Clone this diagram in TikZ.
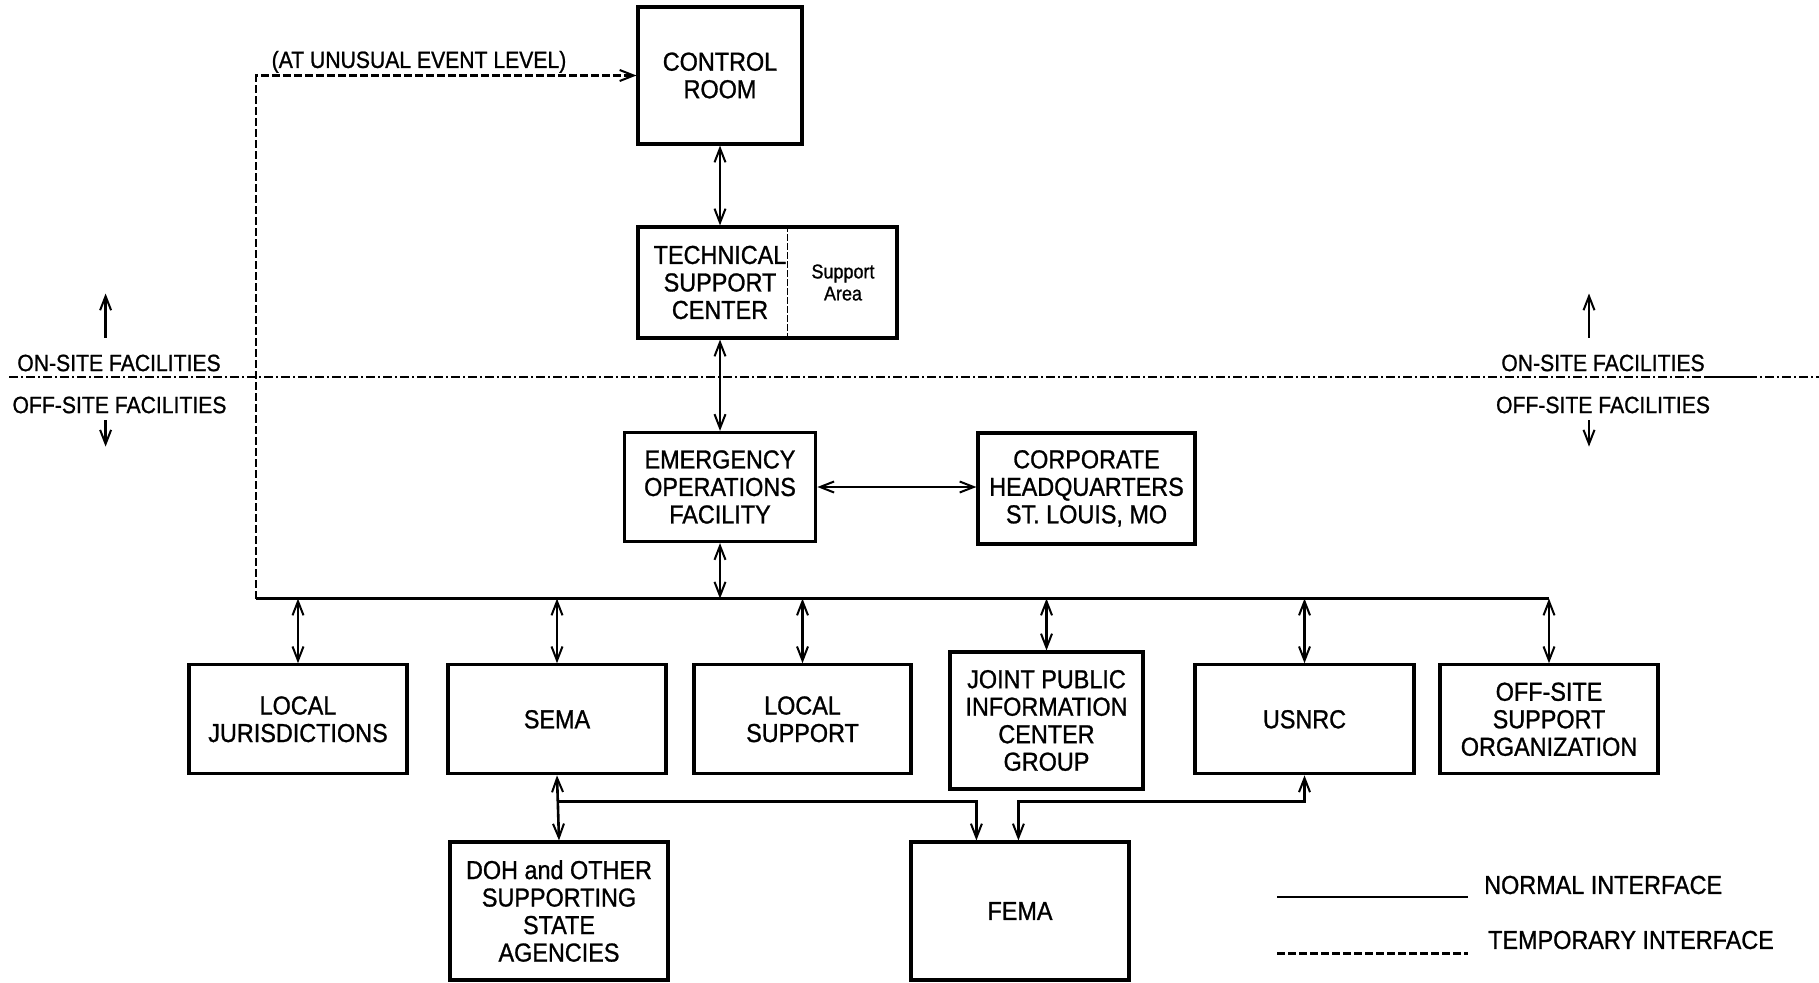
\documentclass[tikz,border=0pt]{standalone}
\usepackage{fontspec}
\setmainfont[FakeStretch=0.9,FakeBold=1]{Liberation Sans}
\usetikzlibrary{arrows.meta,calc}
\newcommand\cbfont{\fontsize{26}{27.5}\selectfont}
\newcommand\lbfont{\fontsize{23.5}{25}\selectfont}
\newcommand\smfont{\fontsize{20}{22}\selectfont}

\begin{document}
\begin{tikzpicture}[x=1pt,y=-1pt,
  box/.style={draw, line width=3.2pt, inner sep=0pt, align=center, font=\cbfont},
  txt/.style={inner sep=0pt, align=center},
  link/.style={line width=2.6pt},
  temp/.style={line width=2.6pt, dash pattern=on 8pt off 3pt},
  site/.style={line width=2.8pt, dash pattern=on 9pt off 3pt on 2pt off 3pt},
  >={Straight Barb[length=14pt,width=11pt,line width=2pt]}]
\useasboundingbox (0,0) rectangle (1819,982);

% ---- on-site facilities ----
\node[box, minimum width=164pt, minimum height=137pt] (cr) at (720,75.5) {CONTROL\\ROOM};
\node[box, minimum width=259pt, minimum height=111pt] (tsc) at (767.5,282.5) {};
\draw[line width=1.6pt, dash pattern=on 7pt off 2pt] ($(tsc.north west)+(151,0)$) -- ($(tsc.south west)+(151,0)$);
\node[txt, font=\cbfont] (tsct) at (720,282.5) {TECHNICAL\\SUPPORT\\CENTER};
\node[txt, font=\smfont] (tscs) at (843,282.5) {Support\\Area};

% ---- site boundary ----
\coordinate (sbL) at (9,377);
\coordinate (sbM1) at (1706,377);
\coordinate (sbM2) at (1748,377);
\coordinate (sbR) at (1819,377);
\draw[site] (sbL) -- (sbM1);
\draw[link, line width=2.8pt] (sbM1) -- (sbM2);
\draw[site] (sbM2) -- (sbR);

\node[txt, font=\lbfont] (onL) at (119,363) {ON-SITE FACILITIES};
\node[txt, font=\lbfont] (offL) at (119.5,405) {OFF-SITE FACILITIES};
\node[txt, font=\lbfont] (onR) at (1603,363) {ON-SITE FACILITIES};
\node[txt, font=\lbfont] (offR) at (1603,405) {OFF-SITE FACILITIES};
\coordinate (upL0) at (105.6,337.6); \coordinate (upL1) at (105.6,293.5);
\coordinate (dnL0) at (105.6,420);   \coordinate (dnL1) at (105.6,446.6);
\coordinate (upR0) at (1589,337.6);  \coordinate (upR1) at (1589,293.5);
\coordinate (dnR0) at (1589,420);    \coordinate (dnR1) at (1589,446.6);
\draw[link,->] (upL0) -- (upL1);
\draw[link,->] (dnL0) -- (dnL1);
\draw[link,->] (upR0) -- (upR1);
\draw[link,->] (dnR0) -- (dnR1);

% ---- off-site facilities ----
\node[box, minimum width=191.5pt, minimum height=109pt] (eof) at (720,487) {EMERGENCY\\OPERATIONS\\FACILITY};
\node[box, minimum width=217pt, minimum height=111pt] (chq) at (1086.5,488.4) {CORPORATE\\HEADQUARTERS\\ST. LOUIS, MO};

\node[box, minimum width=218pt, minimum height=109pt] (lj)  at (298,719.3)   {LOCAL\\JURISDICTIONS};
\node[box, minimum width=218pt, minimum height=109pt] (sema) at (557,719.3)  {SEMA};
\node[box, minimum width=217pt, minimum height=109pt] (ls)  at (802.5,719.3) {LOCAL\\SUPPORT};
\node[box, minimum width=193pt, minimum height=137pt] (jpic) at (1046.5,720.5) {JOINT PUBLIC\\INFORMATION\\CENTER\\GROUP};
\node[box, minimum width=219pt, minimum height=109pt] (nrc) at (1304.5,719.3) {USNRC};
\node[box, minimum width=218pt, minimum height=109pt] (osso) at (1549,719.3) {OFF-SITE\\SUPPORT\\ORGANIZATION};

\node[box, minimum width=218pt, minimum height=138pt] (doh)  at (559,911)  {DOH and OTHER\\SUPPORTING\\STATE\\AGENCIES};
\node[box, minimum width=218pt, minimum height=138pt] (fema) at (1020,911) {FEMA};

% ---- interfaces ----
\draw[link,<->] (cr.south) -- (cr.south |- tsc.north);
\draw[link,<->] (cr.south |- tsc.south) -- (eof.north);
\draw[link,<->] (eof.east) -- (eof.east -| chq.west);

\coordinate (busL) at (256,598.6);
\coordinate (busR) at (1549,598.6);
\draw[link] (busL) -- (busR);
\draw[link,<->] (eof.south) -- (eof.south |- busL);
\draw[link,<->] (busL -| lj.north) -- (lj.north);
\draw[link,<->] (busL -| sema.north) -- (sema.north);
\draw[link,<->] (busL -| ls.north) -- (ls.north);
\draw[link,<->] (busL -| jpic.north) -- (jpic.north);
\draw[link,<->] (busL -| nrc.north) -- (nrc.north);
\draw[link,<->] (busR) -- (osso.north);

% temporary interface to the control room
\draw[temp,->] (busL) |- (cr.west);
\node[txt, font=\lbfont, anchor=south] (lvl) at (419,73) {(AT UNUSUAL EVENT LEVEL)};

% state and federal links
\coordinate (fin1) at ($(fema.north west)+(67,0)$);
\coordinate (fin2) at ($(fema.north west)+(109,0)$);
\draw[link,<->] (sema.south) -- (doh.north);
\coordinate (j1) at (sema.south |- 0,801.6);
\draw[link,->] (j1) -| (fin1);
\draw[link,<->] (fin2) |- (nrc.south |- j1) -- (nrc.south);

% ---- legend ----
\coordinate (lg1a) at (1277,897);   \coordinate (lg1b) at (1467.5,897);
\coordinate (lg2a) at (1277,953.6); \coordinate (lg2b) at (1467.5,953.6);
\draw[link] (lg1a) -- (lg1b);
\draw[temp] (lg2a) -- (lg2b);
\node[txt, font=\cbfont, anchor=west] (lgt1) at (1484,885) {NORMAL INTERFACE};
\node[txt, font=\cbfont, anchor=west] (lgt2) at (1488,940) {TEMPORARY INTERFACE};
\end{tikzpicture}
\end{document}
